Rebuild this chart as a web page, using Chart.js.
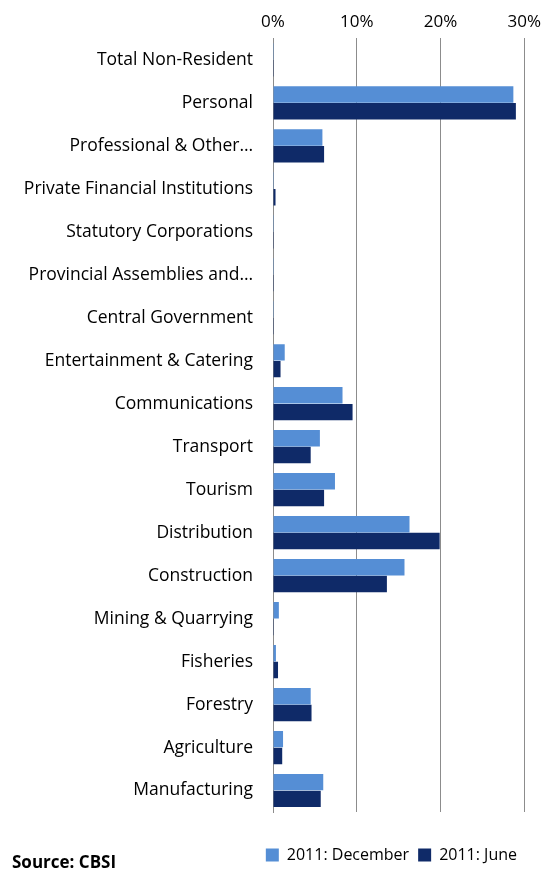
<!DOCTYPE html>
<html>
<head>
<meta charset="utf-8">
<script src="https://cdn.jsdelivr.net/npm/chart.js@4/dist/chart.umd.min.js"></script>
<style>
  body { margin: 0; background: #fff; }
  #wrap { position: relative; width: 547px; height: 873px; }
  #source { position: absolute; left: 12px; top: 850px; font: bold 17px 'Open Sans', sans-serif; color: #000; }
</style>
</head>
<body>
<div id="wrap">
  <canvas id="chart" width="547" height="873"></canvas>
  <div id="source">Source: CBSI</div>
</div>
<script>
// Sector categories, top to bottom
const categories = [
    'Total Non-Resident', 'Personal', 'Professional & Other…', 'Private Financial Institutions',
    'Statutory Corporations', 'Provincial Assemblies and…', 'Central Government',
    'Entertainment & Catering', 'Communications', 'Transport', 'Tourism', 'Distribution',
    'Construction', 'Mining & Quarrying', 'Fisheries', 'Forestry', 'Agriculture', 'Manufacturing'
];
// Share of loans, percent
const december = [0.1, 28.7, 5.9, 0.1, 0.1, 0.1, 0.1, 1.4, 8.3, 5.6, 7.4, 16.3, 15.7, 0.7, 0.35, 4.5, 1.2, 6.0];
const june = [0.1, 29.0, 6.1, 0.3, 0.1, 0.1, 0.1, 0.9, 9.5, 4.5, 6.1, 19.9, 13.6, 0.1, 0.6, 4.6, 1.1, 5.7];

const FONT = "'Open Sans', sans-serif";

new Chart(document.getElementById('chart'), {
    type: 'bar',
    data: {
        labels: categories,
        datasets: [
            { label: '2011: December', data: december, backgroundColor: '#558ed5', borderWidth: 0 },
            { label: '2011: June', data: june, backgroundColor: '#0f2a68', borderWidth: 0 }
        ]
    },
    options: {
        indexAxis: 'y',
        responsive: false,
        animation: false,
        devicePixelRatio: 1,
        categoryPercentage: 0.78,
        barPercentage: 0.98,
        layout: { padding: { top: 6, right: 21, bottom: 0, left: 0 } },
        scales: {
            x: {
                position: 'top',
                min: 0, max: 30,
                ticks: { stepSize: 10, color: '#000', font: { size: 17, family: FONT }, padding: 6, callback: v => v + '%' },
                grid: { color: '#8c8c8c', drawTicks: false },
                border: { display: false }
            },
            y: {
                afterFit: s => { s.width = 273; },
                ticks: { color: '#000', font: { size: 17.5, family: FONT }, padding: 12 },
                grid: { display: false },
                border: { color: '#8c8c8c' }
            }
        },
        plugins: {
            legend: {
                position: 'bottom',
                align: 'end',
                title: { display: true, text: ' ', font: { size: 10 }, padding: { top: 14, bottom: 0 } },
                labels: { color: '#000', font: { size: 16, family: FONT }, boxWidth: 13, boxHeight: 13, padding: 9 }
            },
            tooltip: { enabled: false }
        }
    }
});
</script>
</body>
</html>
